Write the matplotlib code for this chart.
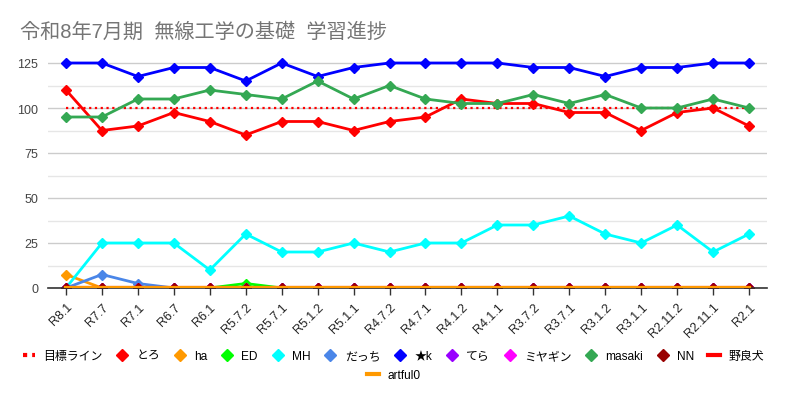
import matplotlib.pyplot as plt
from matplotlib.lines import Line2D

plt.rcParams['font.family'] = ['Liberation Sans', 'Noto Sans CJK JP', 'DejaVu Sans']

# 回次ラベル
labels = ["R8.1", "R7.7", "R7.1", "R6.7", "R6.1", "R5.7.2", "R5.7.1", "R5.1.2", "R5.1.1",
          "R4.7.2", "R4.7.1", "R4.1.2", "R4.1.1", "R3.7.2", "R3.7.1", "R3.1.2", "R3.1.1",
          "R2.11.2", "R2.11.1", "R2.1"]

# 各メンバーの得点
target = [100, 100, 100, 100, 100, 100, 100, 100, 100, 100, 100, 100, 100, 100, 100, 100, 100, 100, 100, 100]
toro = [110, 87.5, 90, 97.5, 92.5, 85, 92.5, 92.5, 87.5, 92.5, 95, 105, 102.5, 102.5, 97.5, 97.5, 87.5, 97.5, 100, 90]
ha = [7.5, 0, 0, 0, 0, 0, 0, 0, 0, 0, 0, 0, 0, 0, 0, 0, 0, 0, 0, 0]
ed = [0, 0, 0, 0, 0, 2.5, 0, 0, 0, 0, 0, 0, 0, 0, 0, 0, 0, 0, 0, 0]
mh = [0, 25, 25, 25, 10, 30, 20, 20, 25, 20, 25, 25, 35, 35, 40, 30, 25, 35, 20, 30]
dacchi = [0, 7.5, 2.5, 0, 0, 0, 0, 0, 0, 0, 0, 0, 0, 0, 0, 0, 0, 0, 0, 0]
star_k = [125, 125, 117.5, 122.5, 122.5, 115, 125, 117.5, 122.5, 125, 125, 125, 125, 122.5, 122.5, 117.5, 122.5, 122.5, 125, 125]
tera = [0, 0, 0, 0, 0, 0, 0, 0, 0, 0, 0, 0, 0, 0, 0, 0, 0, 0, 0, 0]
miyagin = [0, 0, 0, 0, 0, 0, 0, 0, 0, 0, 0, 0, 0, 0, 0, 0, 0, 0, 0, 0]
masaki = [95, 95, 105, 105, 110, 107.5, 105, 115, 105, 112.5, 105, 102.5, 102.5, 107.5, 102.5, 107.5, 100, 100, 105, 100]
nn = [0, 0, 0, 0, 0, 0, 0, 0, 0, 0, 0, 0, 0, 0, 0, 0, 0, 0, 0, 0]
norainu = [0, 0, 0, 0, 0, 0, 0, 0, 0, 0, 0, 0, 0, 0, 0, 0, 0, 0, 0, 0]
artful0 = [0, 0, 0, 0, 0, 0, 0, 0, 0, 0, 0, 0, 0, 0, 0, 0, 0, 0, 0, 0]

# (名前, データ, 色, マーカー有無)
series = [
    ("とろ", toro, "#ff0000", True),
    ("ha", ha, "#ff9900", True),
    ("ED", ed, "#00ff00", True),
    ("MH", mh, "#00ffff", True),
    ("だっち", dacchi, "#4a86e8", True),
    ("★k", star_k, "#0000ff", True),
    ("てら", tera, "#9900ff", True),
    ("ミヤギン", miyagin, "#ff00ff", True),
    ("masaki", masaki, "#34a853", True),
    ("NN", nn, "#990000", True),
    ("野良犬", norainu, "#ff0000", False),
    ("artful0", artful0, "#ff9900", False),
]

fig = plt.figure(figsize=(7.87, 4.02), dpi=100)
ax = fig.add_axes([48 / 787, 113 / 402, 719 / 787, 234 / 402])

x = range(len(labels))

# 目標ライン
ax.plot(x, target, color="#ff0000", lw=1.6, dashes=(1, 1.6), zorder=2)

handles = [Line2D([], [], color="#ff0000", lw=3, dashes=(1, 1.2))]
for name, vals, col, mk in series:
    if mk:
        ax.plot(x, vals, color=col, lw=2, marker="D", markersize=4.8, zorder=2)
        handles.append(Line2D([], [], color=col, marker="D", markersize=6, linestyle="none"))
    else:
        # 0の線は下半分が切れるので太めに
        ax.plot(x, vals, color=col, lw=3, zorder=2.6)
        handles.append(Line2D([], [], color=col, lw=3))

names = ["目標ライン"] + [s[0] for s in series]

ax.set_xlim(-0.5, len(labels) - 0.5)
ax.set_ylim(0, 130)
ax.set_yticks([0, 25, 50, 75, 100, 125])
ax.set_yticks([12.5, 37.5, 62.5, 87.5, 112.5], minor=True)
ax.grid(axis="y", which="major", color="#cccccc", lw=1)
ax.grid(axis="y", which="minor", color="#e6e6e6", lw=1)
ax.set_axisbelow(True)
for s in ["top", "right", "left"]:
    ax.spines[s].set_visible(False)
ax.spines["bottom"].set_color("#333333")
ax.spines["bottom"].set_linewidth(1.2)
ax.tick_params(axis="y", which="both", length=0, labelsize=9, labelcolor="#444444", pad=7)
ax.set_xticks(list(x))
ax.set_xticklabels(labels, rotation=45, ha="right", rotation_mode="anchor", fontsize=9, color="#222222")
ax.tick_params(axis="x", length=5, width=1, color="#333333", pad=4)

fig.text(20 / 787, 1 - 32 / 402, "令和8年7月期  無線工学の基礎  学習進捗", fontsize=14.5,
         color="#757575", va="center", ha="left")

fig.legend(handles[:12], names[:12], loc="center", bbox_to_anchor=(0.5, 1 - 357 / 402),
           ncol=12, frameon=False, fontsize=8.6, handlelength=1.0, handletextpad=0.7,
           columnspacing=1.15, borderpad=0)
fig.legend(handles[12:], names[12:], loc="center", bbox_to_anchor=(0.5, 1 - 376 / 402),
           ncol=1, frameon=False, fontsize=8.6, handlelength=1.0, handletextpad=0.7, borderpad=0)

fig.savefig("out.png", dpi=100)
